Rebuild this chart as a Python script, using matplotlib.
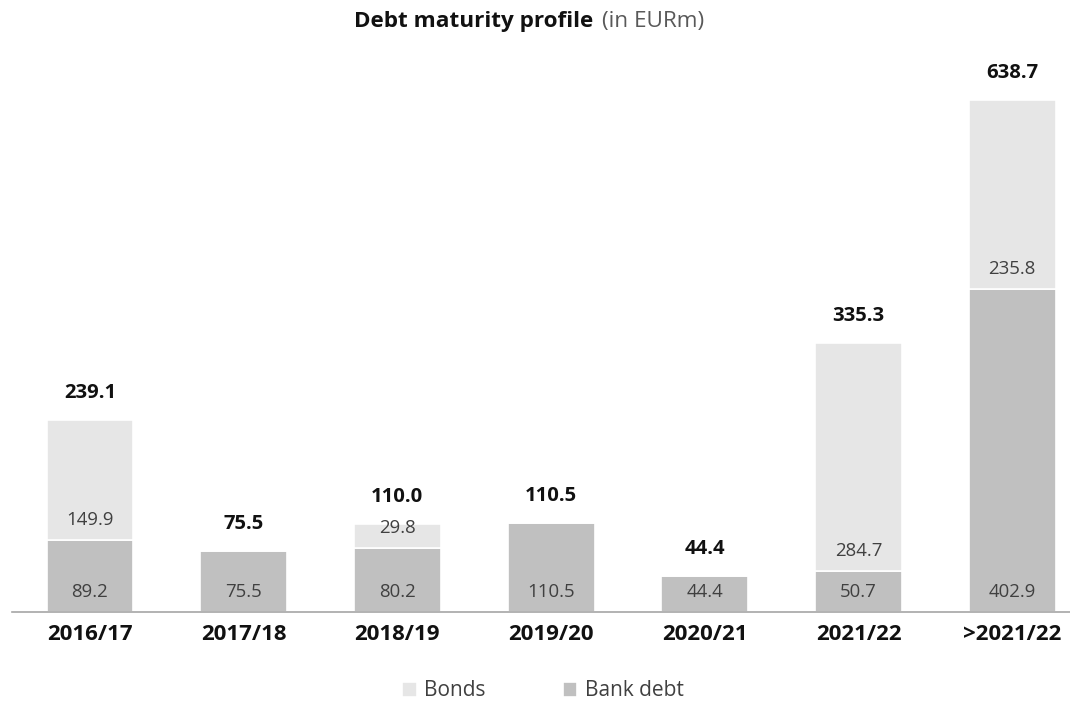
import matplotlib.pyplot as plt
import numpy as np

# Data (EURm)
years = ["2016/17", "2017/18", "2018/19", "2019/20", "2020/21", "2021/22", ">2021/22"]
bank_debt = [89.2, 75.5, 80.2, 110.5, 44.4, 50.7, 402.9]
bonds = [149.9, 0.0, 29.8, 0.0, 0.0, 284.7, 235.8]
totals = [239.1, 75.5, 110.0, 110.5, 44.4, 335.3, 638.7]

plt.rcParams["font.family"] = ["Open Sans", "DejaVu Sans"]

bank_color = "#c0c0c0"
bond_color = "#e6e6e6"

fig = plt.figure(figsize=(10.7, 7.04), dpi=100)
W, H = 1070, 704
# axes: baseline at y=612px, 638.7 top at y=100px
y0_px, ytop_px = 612, 100
ymax_px = 40
ax = fig.add_axes([12 / W, (H - y0_px) / H, (W - 12) / W, (y0_px - ymax_px) / H])

x = np.arange(len(years))
width = 0.566
b1 = ax.bar(x, bank_debt, width, color=bank_color, edgecolor="white", linewidth=1.2,
            label="Bank debt")
b2 = ax.bar(x, bonds, width, bottom=bank_debt, color=bond_color, edgecolor="white",
            linewidth=1.2, label="Bonds")

scale = 638.7 / (y0_px - ytop_px)  # data units per pixel
ax.set_ylim(0, (y0_px - ymax_px) * scale)
ax.set_xlim((12 - 90) / 153.7, (W - 90) / 153.7)

off = 20 * scale
for i in range(len(years)):
    ax.text(x[i], off, f"{bank_debt[i]:.1f}", ha="center", va="center",
            fontsize=13.4, color="#404040")
    if bonds[i] > 0:
        ax.text(x[i], bank_debt[i] + off, f"{bonds[i]:.1f}", ha="center", va="center",
                fontsize=13.4, color="#404040")
    ax.text(x[i], totals[i] + 27 * scale, f"{totals[i]:.1f}", ha="center", va="center",
            fontsize=14.6, fontweight="bold", color="#111111")

for s in ["top", "right", "left"]:
    ax.spines[s].set_visible(False)
ax.spines["bottom"].set_color("#a6a6a6")
ax.spines["bottom"].set_linewidth(1.2)
ax.set_yticks([])
ax.set_xticks(x)
ax.set_xticklabels(years, fontsize=16, fontweight="bold", color="#111111")
ax.tick_params(axis="x", length=0, pad=8.5)

# title
fig.text(593 / W, 1 - 21 / H, "Debt maturity profile", ha="right", va="center",
         fontsize=16.2, fontweight="bold", color="#111111")
fig.text(602 / W, 1 - 21 / H, "(in EURm)", ha="left", va="center",
         fontsize=16.2, color="#595959")

leg = fig.legend(handles=[b2, b1], labels=["Bonds", "Bank debt"], loc="center",
                 bbox_to_anchor=(543 / W, 1 - 691 / H), ncol=2, frameon=False,
                 fontsize=15, handlelength=0.7, handleheight=0.7, handletextpad=0.35,
                 columnspacing=3.7)
for t in leg.get_texts():
    t.set_color("#404040")

fig.savefig("out.png", dpi=100)
